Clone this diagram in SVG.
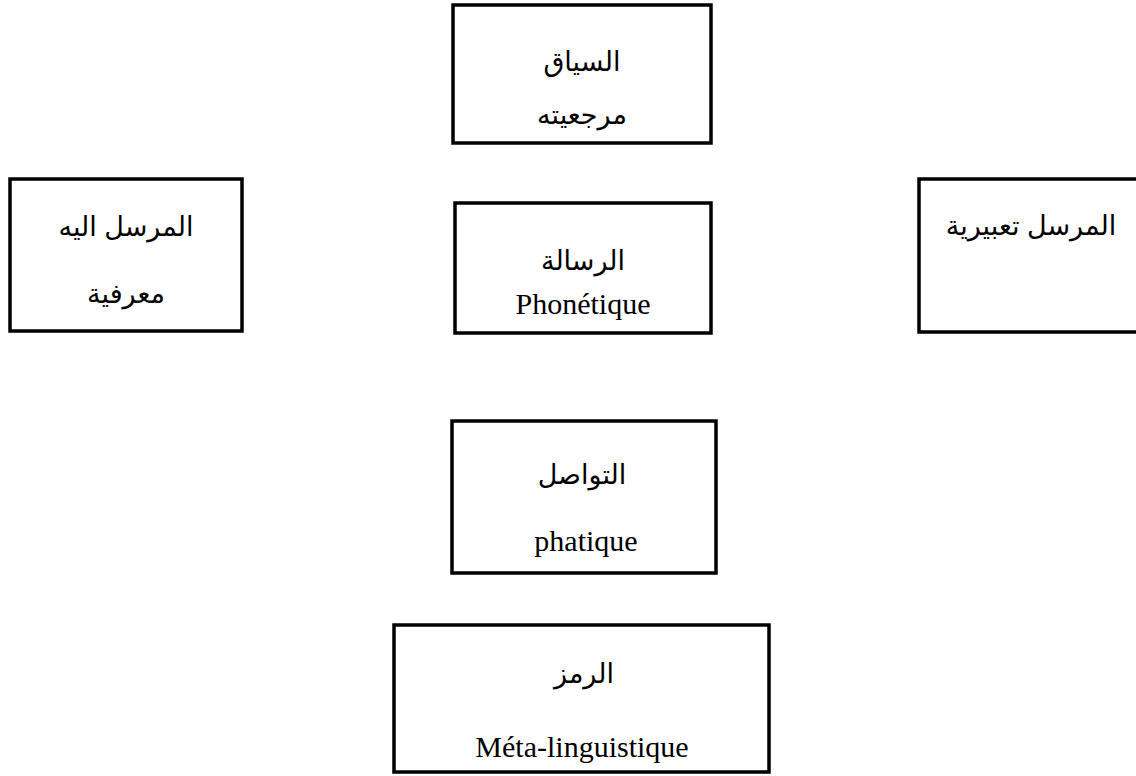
<svg xmlns="http://www.w3.org/2000/svg" width="1136" height="776" viewBox="0 0 1136 776">
  <style>
    .box { fill: #ffffff; stroke: #000000; stroke-width: 3.5; }
    .ar { font-family: "Liberation Sans", "DejaVu Sans", sans-serif; font-size: 27px; fill: #000; text-anchor: middle; }
    .ars { font-family: "Liberation Serif", "DejaVu Serif", "DejaVu Sans", serif; font-size: 27px; fill: #000; text-anchor: middle; }
    .lat { font-family: "Liberation Serif", "Times New Roman", serif; font-size: 30px; fill: #000; text-anchor: middle; }
  </style>
  <rect width="1136" height="776" fill="#ffffff"/>

  <!-- context box -->
  <g id="context">
    <rect class="box" x="453" y="5" width="258" height="138"/>
    <text class="ar" x="582" y="71" direction="rtl">السياق</text>
    <text class="ar" x="582" y="124" direction="rtl">مرجعيته</text>
  </g>

  <!-- addressee box -->
  <g id="addressee">
    <rect class="box" x="10" y="179" width="232" height="152"/>
    <text class="ar" x="126" y="236" direction="rtl">المرسل اليه</text>
    <text class="ar" x="126" y="303" direction="rtl">معرفية</text>
  </g>

  <!-- message box -->
  <g id="message">
    <rect class="box" x="455" y="203" width="256" height="130"/>
    <text class="ars" x="583" y="270" direction="rtl">الرسالة</text>
    <text class="lat" x="583" y="314">Phonétique</text>
  </g>

  <!-- sender box -->
  <g id="sender">
    <rect class="box" x="919" y="179" width="222" height="153"/>
    <text class="ar" x="1031" y="235" direction="rtl">المرسل تعبيرية</text>
  </g>

  <!-- contact box -->
  <g id="contact">
    <rect class="box" x="452" y="421" width="264" height="152"/>
    <text class="ars" x="582" y="484" direction="rtl">التواصل</text>
    <text class="lat" x="586" y="551">phatique</text>
  </g>

  <!-- code box -->
  <g id="code">
    <rect class="box" x="394" y="625" width="375" height="147"/>
    <text class="ars" x="584" y="683" direction="rtl">الرمز</text>
    <text class="lat" x="582" y="757">Méta-linguistique</text>
  </g>

  <g id="connectors"></g>
</svg>
